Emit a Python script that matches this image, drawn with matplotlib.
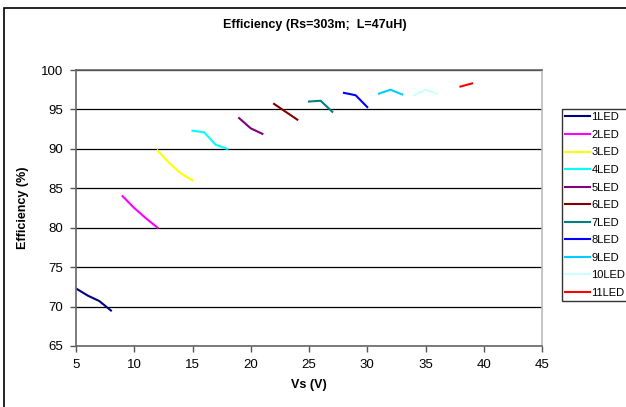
import matplotlib
matplotlib.use("Agg")
import matplotlib.pyplot as plt
from matplotlib.patches import Rectangle

plt.rcParams['font.family'] = ['Liberation Sans', 'DejaVu Sans']

labels = ["1LED", "2LED", "3LED", "4LED", "5LED", "6LED",
          "7LED", "8LED", "9LED", "10LED", "11LED"]
colors = ["#000080", "#FF00FF", "#FFFF00", "#00FFFF", "#800080", "#800000",
          "#008080", "#0000FF", "#00CCFF", "#CCFFFF", "#FF0000"]

vs = [
    [5, 6, 7, 8],
    [9, 10, 11, 12],
    [12, 13, 14, 15],
    [15, 16, 17, 18],
    [19, 20, 21],
    [22, 23, 24],
    [25, 26, 27],
    [28, 29, 30],
    [31, 32, 33],
    [34, 35, 36],
    [38, 39],
]
eff = [
    [72.3, 71.4, 70.7, 69.5],
    [84.0, 82.5, 81.2, 80.0],
    [89.8, 88.2, 86.9, 86.0],
    [92.3, 92.1, 90.5, 90.0],
    [93.9, 92.6, 91.9],
    [95.7, 94.7, 93.7],
    [96.0, 96.1, 94.7],
    [97.1, 96.8, 95.3],
    [97.0, 97.5, 96.9],
    [96.8, 97.5, 97.0],
    [97.9, 98.3],
]

fig = plt.figure(figsize=(6.26, 4.07), dpi=100)
ax = fig.add_axes([76 / 626, 1 - 346 / 407, 466 / 626, 276 / 407])

# outer chart border (extends past the image on the right and bottom)
fig.patches.append(Rectangle((4 / 626, -0.1), 1.1, 1 - 8 / 407 + 0.1,
                             transform=fig.transFigure, fill=False,
                             edgecolor="black", linewidth=1.2))

for x, y, c, lab in zip(vs, eff, colors, labels):
    ax.plot(x, y, color=c, linewidth=1.5, label=lab)

ax.set_xlim(5, 45)
ax.set_ylim(65, 100)
ax.set_xticks(range(5, 46, 5))
ax.set_yticks(range(65, 101, 5))
ax.yaxis.grid(True, color="black", linewidth=0.9)
ax.set_axisbelow(True)
ax.tick_params(direction="out", length=4, width=1, color="#555555",
               labelsize=9.5, pad=5)

for side in ["left", "bottom", "top"]:
    ax.spines[side].set_color("#666666")
    ax.spines[side].set_linewidth(1.2)
ax.spines["right"].set_color("#BBBBBB")
ax.spines["right"].set_linewidth(1.2)

ax.set_xlabel("Vs (V)", fontweight="bold", fontsize=9, labelpad=6)
ax.set_ylabel("Efficiency (%)", fontweight="bold", fontsize=9, labelpad=9)
fig.text(315 / 626, 1 - 25 / 407, "Efficiency (Rs=303m;  L=47uH)",
         ha="center", va="center", fontweight="bold", fontsize=9)

leg = ax.legend(loc="upper left", bbox_to_anchor=(562 / 626, 1 - 109 / 407),
                bbox_transform=fig.transFigure, frameon=True, fancybox=False,
                fontsize=8, handlelength=2.2, handletextpad=0.15,
                labelspacing=0.68, borderaxespad=0, borderpad=0.3)
leg.get_frame().set_edgecolor("black")
leg.get_frame().set_linewidth(1.0)

fig.savefig("out.png", dpi=100)
